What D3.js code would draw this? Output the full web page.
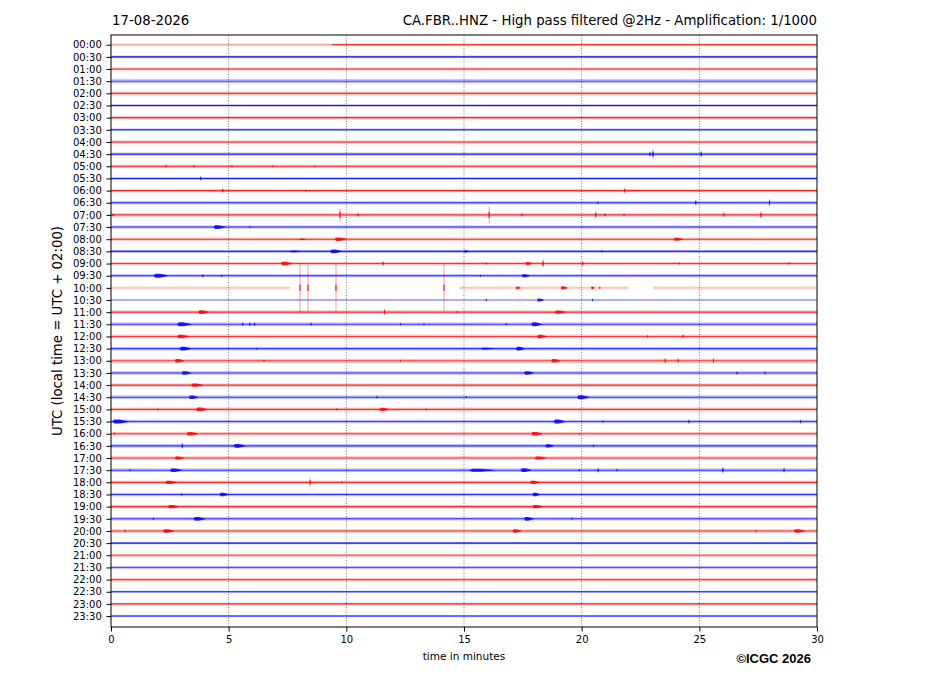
<!DOCTYPE html>
<html>
<head>
<meta charset="utf-8">
<script src="https://cdn.jsdelivr.net/npm/d3@7"></script>
<style>
  body { margin: 0; background: #fff; }
  svg text { font-family: "DejaVu Sans", sans-serif; }
</style>
</head>
<body>
<svg id="main-svg" width="927" height="696"></svg>
<script>

// Row labels of the helicorder, one trace per half hour
const timeLabels = ["00:00","00:30","01:00","01:30","02:00","02:30","03:00","03:30",
                    "04:00","04:30","05:00","05:30","06:00","06:30","07:00","07:30",
                    "08:00","08:30","09:00","09:30","10:00","10:30","11:00","11:30",
                    "12:00","12:30","13:00","13:30","14:00","14:30","15:00","15:30",
                    "16:00","16:30","17:00","17:30","18:00","18:30","19:00","19:30",
                    "20:00","20:30","21:00","21:30","22:00","22:30","23:00","23:30"];

const minuteTicks = [0, 5, 10, 15, 20, 25, 30];

// Background noise level of each trace (counts)
const noiseLevels = [110, 110, 120, 170, 150, 110, 130, 110,
                     120, 130, 130, 120, 130, 130, 140, 130,
                     130, 130, 140, 130, 160, 90, 140, 150,
                     150, 150, 160, 150, 140, 150, 150, 150,
                     150, 150, 140, 150, 140, 140, 140, 140,
                     140, 100, 130, 130, 130, 90, 100, 90];

// Strength of each trace line (0..1)
const traceStrength = [0.9, 0.9, 0.8, 0.6, 0.7, 0.9, 0.8, 0.9,
                       0.85, 0.8, 0.8, 0.85, 0.8, 0.8, 0.75, 0.8,
                       0.8, 0.8, 0.75, 0.8, 0.7, 0.9, 0.75, 0.7,
                       0.7, 0.7, 0.7, 0.7, 0.75, 0.7, 0.7, 0.7,
                       0.7, 0.7, 0.75, 0.7, 0.75, 0.75, 0.75, 0.75,
                       0.75, 0.9, 0.6, 0.6, 0.65, 0.9, 0.85, 0.9];

// Parts of traces drawn with a different strength: [row, from, to, opacity]
const traceSegments = [["00:00", 0, 9.4, 0.45], ["00:00", 9.4, 30, 1],
                       ["10:00", 0, 7.6, 0.3], ["10:00", 14.8, 22.0, 0.3], ["10:00", 23.05, 30, 0.3],
                       ["10:30", 0, 30, 0.5]];

// Emergent signals: [row, start minute, end minute, amplitude counts]
const bursts = [
  ["07:30", 4.35, 4.85, 150],
  ["08:00", 8.0, 8.3, 60], ["08:00", 9.5, 10.0, 150], ["08:00", 23.9, 24.3, 130],
  ["08:30", 7.6, 8.1, 70], ["08:30", 9.3, 9.8, 150], ["08:30", 15.0, 15.2, 100],
  ["09:00", 7.2, 7.7, 150], ["09:00", 17.6, 17.9, 130],
  ["09:30", 1.8, 2.4, 160], ["09:30", 17.45, 17.8, 120],
  ["10:00", 17.2, 17.4, 120], ["10:00", 19.1, 19.4, 140], ["10:00", 20.4, 20.55, 120],
  ["10:30", 18.1, 18.4, 120],
  ["11:00", 3.7, 4.15, 150], ["11:00", 18.85, 19.3, 140],
  ["11:30", 2.8, 3.4, 160], ["11:30", 17.85, 18.3, 160],
  ["12:00", 2.8, 3.3, 150], ["12:00", 18.1, 18.5, 150],
  ["12:30", 2.9, 3.4, 150], ["12:30", 15.7, 16.3, 80], ["12:30", 17.2, 17.6, 150],
  ["13:00", 2.7, 3.1, 150], ["13:00", 18.7, 19.1, 140],
  ["13:30", 3.0, 3.4, 140], ["13:30", 17.55, 17.95, 140],
  ["14:00", 3.4, 3.9, 130],
  ["14:30", 3.3, 3.7, 150], ["14:30", 19.8, 20.3, 160],
  ["15:00", 3.6, 4.1, 150], ["15:00", 11.4, 11.8, 140],
  ["15:30", 0.05, 0.75, 160], ["15:30", 18.8, 19.3, 160],
  ["16:00", 3.2, 3.7, 140], ["16:00", 17.85, 18.35, 140],
  ["16:30", 5.2, 5.7, 160], ["16:30", 18.45, 18.8, 140],
  ["17:00", 2.7, 3.1, 130], ["17:00", 18.0, 18.5, 130],
  ["17:30", 2.5, 3.0, 140], ["17:30", 15.2, 16.3, 120], ["17:30", 17.4, 17.85, 150],
  ["18:00", 2.3, 2.8, 140], ["18:00", 17.8, 18.2, 140],
  ["18:30", 4.6, 5.0, 150], ["18:30", 17.9, 18.25, 150],
  ["19:00", 2.4, 2.9, 140], ["19:00", 17.9, 18.35, 140],
  ["19:30", 3.5, 4.0, 150], ["19:30", 17.55, 17.95, 150],
  ["20:00", 2.2, 2.7, 140], ["20:00", 17.05, 17.45, 140], ["20:00", 29.0, 29.5, 140]
];

// Impulsive signals: [row, minute, amplitude counts]
const spikes = [
  ["04:30", 22.9, 200], ["04:30", 23.03, 370], ["04:30", 25.08, 250],
  ["05:00", 2.34, 120], ["05:00", 3.53, 100], ["05:00", 5.14, 120], ["05:00", 6.86, 80], ["05:00", 8.66, 80],
  ["05:30", 3.81, 180],
  ["06:00", 4.75, 200], ["06:00", 8.27, 100], ["06:00", 21.83, 230],
  ["06:30", 20.7, 120], ["06:30", 24.85, 220], ["06:30", 27.98, 260],
  ["07:00", 0.09, 150], ["07:00", 9.73, 550], ["07:00", 10.5, 170], ["07:00", 16.07, 650],
  ["07:00", 17.46, 150], ["07:00", 20.6, 330], ["07:00", 21.0, 150], ["07:00", 21.8, 110],
  ["07:00", 26.04, 200], ["07:00", 27.62, 300],
  ["07:30", 5.9, 80],
  ["08:30", 20.85, 100],
  ["09:00", 11.57, 180], ["09:00", 15.95, 100], ["09:00", 18.36, 330], ["09:00", 20.04, 200],
  ["09:00", 24.15, 100], ["09:00", 28.8, 100],
  ["09:30", 3.9, 130], ["09:30", 4.7, 100], ["09:30", 15.7, 100],
  ["10:00", 8.03, 2000], ["10:00", 8.37, 1900], ["10:00", 9.56, 1950], ["10:00", 14.15, 1950], ["10:00", 20.77, 120],
  ["10:30", 15.95, 100], ["10:30", 20.46, 110],
  ["11:00", 11.62, 250], ["11:00", 14.7, 100],
  ["11:30", 5.6, 150], ["11:30", 5.9, 150], ["11:30", 6.1, 150], ["11:30", 8.5, 120],
  ["11:30", 12.3, 100], ["11:30", 13.3, 90], ["11:30", 16.8, 110],
  ["12:00", 22.8, 120], ["12:00", 24.3, 170],
  ["12:30", 6.2, 100],
  ["13:00", 6.5, 100], ["13:00", 12.3, 100], ["13:00", 23.55, 220], ["13:00", 24.1, 180], ["13:00", 25.6, 220],
  ["13:30", 26.6, 120], ["13:30", 27.8, 120],
  ["14:30", 11.3, 100], ["14:30", 15.1, 100],
  ["15:00", 2.0, 90], ["15:00", 9.6, 90], ["15:00", 13.4, 80],
  ["15:30", 20.9, 100], ["15:30", 24.56, 170], ["15:30", 29.3, 150],
  ["16:00", 0.15, 120], ["16:00", 19.9, 100],
  ["16:30", 3.03, 230], ["16:30", 20.5, 100],
  ["17:30", 0.8, 100], ["17:30", 19.9, 110], ["17:30", 20.7, 200], ["17:30", 21.5, 100],
  ["17:30", 26.0, 250], ["17:30", 28.6, 200],
  ["18:00", 8.46, 330], ["18:00", 9.8, 90],
  ["18:30", 3.0, 100],
  ["19:30", 1.8, 100], ["19:30", 19.6, 100],
  ["20:00", 0.6, 100], ["20:00", 27.4, 110]
];


class HelicorderView {
    constructor(svg) {
        this.svg = svg;

        this.left = 111;                                                        // Plot frame
        this.right = 817;
        this.top = 35;
        this.bottom = 627;

        this.x = d3.scaleLinear().domain([0, 30]).range([this.left, this.right]);
        this.y = d3.scaleLinear().domain([-0.8, 47.9]).range([this.top, this.bottom]);
        this.amp = d3.scaleLinear().domain([0, 1000]).range([0, this.y(1) - this.y(0)]);   // 1 row = 1000 counts

        this.colors = ["#ff0000", "#0000ff"];
    }

    rowIndex(label) { return timeLabels.indexOf(label); }
    rowColor(label) { return this.colors[this.rowIndex(label) % 2]; }

    draw() {
        const { x, y, amp } = this;

        this.svg.append("defs").append("clipPath").attr("id", "plot-clip")
            .append("rect")
                .attr("x", this.left).attr("y", this.top)
                .attr("width", this.right - this.left).attr("height", this.bottom - this.top);

        // titles
        this.svg.append("text")
            .attr("x", 112).attr("y", 25)
            .attr("font-size", 13.3)
            .text("17-08-2026");
        this.svg.append("text")
            .attr("x", this.right).attr("y", 25)
            .attr("text-anchor", "end")
            .attr("font-size", 13.3)
            .text("CA.FBR..HNZ - High pass filtered @2Hz - Amplification: 1/1000");

        // vertical dotted grid
        this.svg.append("g").selectAll("line")
            .data(minuteTicks.slice(1, -1))
            .join("line")
                .attr("x1", d => x(d)).attr("x2", d => x(d))
                .attr("y1", this.top).attr("y2", this.bottom)
                .attr("stroke", "#444").attr("stroke-width", 0.7)
                .attr("stroke-dasharray", "1,1.6");

        const plot = this.svg.append("g").attr("clip-path", "url(#plot-clip)");

        // traces
        const segments = [];
        timeLabels.forEach(label => {
            const own = traceSegments.filter(s => s[0] === label);
            if (own.length) own.forEach(s => segments.push(s));
            else segments.push([label, 0, 30, 1]);
        });

        const traces = plot.append("g");
        segments.forEach(([label, from, to, op]) => {
            const i = this.rowIndex(label);
            const n = amp(noiseLevels[i]);
            traces.append("rect")
                .attr("x", x(from)).attr("width", x(to) - x(from))
                .attr("y", y(i) - n).attr("height", 2 * n)
                .attr("fill", this.rowColor(label))
                .attr("opacity", 0.25 * op);
            traces.append("line")
                .attr("x1", x(from)).attr("x2", x(to))
                .attr("y1", y(i)).attr("y2", y(i))
                .attr("stroke", this.rowColor(label))
                .attr("stroke-width", 1.1)
                .attr("opacity", traceStrength[i] * op);
        });

        // bursts as spindle envelopes
        const envelope = ([label, s, e, a]) => {
            const c = y(this.rowIndex(label));
            const w = e - s;
            const h = amp(a);
            const pts = [[s, 0], [s + 0.15 * w, h], [s + 0.45 * w, h], [e, 0.2 * h],
                         [e, -0.2 * h], [s + 0.45 * w, -h], [s + 0.15 * w, -h]];
            return "M" + pts.map(p => `${x(p[0])},${c - p[1]}`).join("L") + "Z";
        };
        plot.append("g").selectAll("path")
            .data(bursts)
            .join("path")
                .attr("d", envelope)
                .attr("fill", d => this.rowColor(d[0]))
                .attr("opacity", 0.85);

        // spikes: faint full extent with a stronger core
        const core = a => Math.min(a * 0.55, 260);
        const spikeG = plot.append("g");
        spikeG.selectAll("line.outer")
            .data(spikes)
            .join("line")
                .attr("class", "outer")
                .attr("x1", d => x(d[1])).attr("x2", d => x(d[1]))
                .attr("y1", d => y(this.rowIndex(d[0])) - amp(d[2]))
                .attr("y2", d => y(this.rowIndex(d[0])) + amp(d[2]))
                .attr("stroke", d => this.rowColor(d[0]))
                .attr("stroke-width", 1)
                .attr("opacity", 0.4);
        spikeG.selectAll("line.inner")
            .data(spikes)
            .join("line")
                .attr("class", "inner")
                .attr("x1", d => x(d[1])).attr("x2", d => x(d[1]))
                .attr("y1", d => y(this.rowIndex(d[0])) - amp(core(d[2])))
                .attr("y2", d => y(this.rowIndex(d[0])) + amp(core(d[2])))
                .attr("stroke", d => this.rowColor(d[0]))
                .attr("stroke-width", 1.2)
                .attr("opacity", 0.9);

        // frame
        this.svg.append("rect")
            .attr("x", this.left).attr("y", this.top)
            .attr("width", this.right - this.left).attr("height", this.bottom - this.top)
            .attr("fill", "none").attr("stroke", "#000").attr("stroke-width", 1);

        // axes
        const xAxis = this.svg.append("g")
            .attr("transform", `translate(0,${this.bottom})`)
            .call(d3.axisBottom(x).tickValues(minuteTicks).tickFormat(d3.format("d")).tickSize(4.5).tickPadding(4.7));
        const yAxis = this.svg.append("g")
            .attr("transform", `translate(${this.left},0)`)
            .call(d3.axisLeft(y).tickValues(d3.range(timeLabels.length)).tickFormat(i => timeLabels[i]).tickSize(4.5).tickPadding(4.7));
        [xAxis, yAxis].forEach(g => {
            g.select(".domain").remove();
            g.selectAll("text").attr("font-family", "DejaVu Sans").attr("font-size", 10).attr("fill", "#000");
            g.selectAll("line").attr("stroke", "#000");
        });

        // axis titles
        this.svg.append("text")
            .attr("x", (this.left + this.right) / 2).attr("y", 660)
            .attr("text-anchor", "middle")
            .attr("font-size", 10.5)
            .text("time in minutes");
        this.svg.append("text")
            .attr("transform", `translate(62,${(this.top + this.bottom) / 2}) rotate(-90)`)
            .attr("text-anchor", "middle")
            .attr("font-size", 13.3)
            .text("UTC (local time = UTC + 02:00)");

        this.svg.append("text")
            .attr("x", 811).attr("y", 663)
            .attr("text-anchor", "end")
            .attr("font-weight", "bold")
            .attr("font-size", 13)
            .style("font-family", "'Liberation Sans', Arial, sans-serif")
            .text("©ICGC 2026");
    }
}

new HelicorderView(d3.select("#main-svg")).draw();
</script>
</body>
</html>
